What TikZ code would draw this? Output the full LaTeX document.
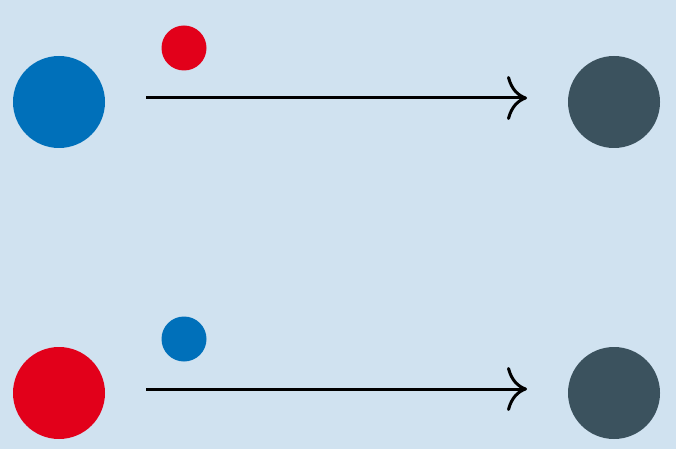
\documentclass[tikz,border=0pt]{standalone}
\usetikzlibrary{arrows.meta}
\definecolor{bgc}{RGB}{208,226,240}
\definecolor{cblue}{RGB}{0,112,186}
\definecolor{cred}{RGB}{226,0,26}
\definecolor{cgray}{RGB}{59,82,94}
\tikzset{
  big/.style={circle,minimum size=92pt,inner sep=0pt,draw=none},
  small/.style={circle,minimum size=45pt,inner sep=0pt,draw=none},
  reaction/.style={line width=3pt,-{Computer Modern Rightarrow[length=20pt,width=44pt,line width=3pt]}}
}
\begin{document}
\begin{tikzpicture}[x=1pt,y=-1pt]
\fill[bgc] (0,0) rectangle (676,449);
\useasboundingbox (0,0) rectangle (676,449);
% top row
\node[big,fill=cblue] (b1) at (59,102) {};
\node[small,fill=cred] (s1) at (184,48) {};
\node[big,fill=cgray] (g1) at (614,102) {};
\coordinate (a1s) at (146,98);
\coordinate (a1e) at (527,98);
\draw[reaction] (a1s) -- (a1e);
% bottom row
\node[big,fill=cred] (b2) at (59,393) {};
\node[small,fill=cblue] (s2) at (184,339) {};
\node[big,fill=cgray] (g2) at (614,393) {};
\coordinate (a2s) at (146,389);
\coordinate (a2e) at (527,389);
\draw[reaction] (a2s) -- (a2e);
\end{tikzpicture}
\end{document}
